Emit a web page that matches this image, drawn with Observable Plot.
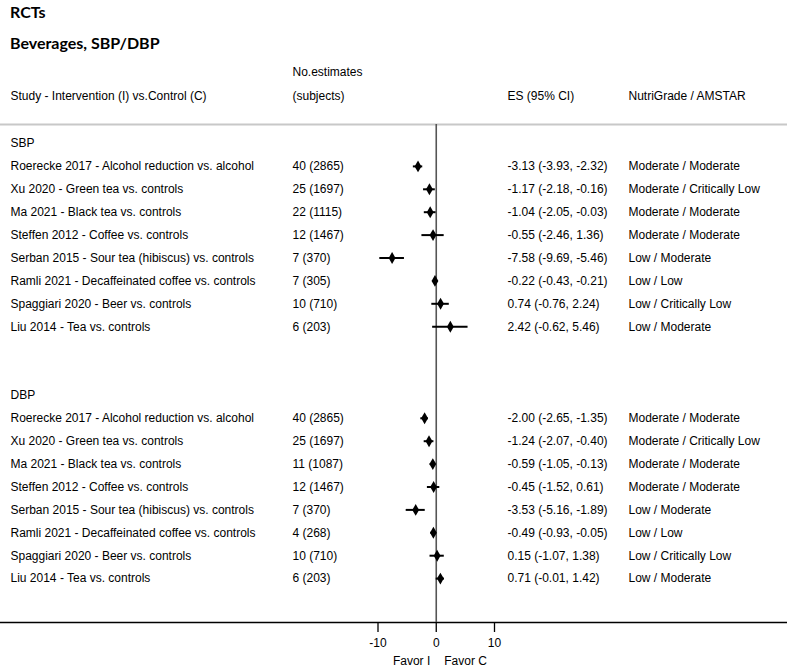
<!DOCTYPE html>
<html>
<head>
<meta charset="utf-8">
<script src="https://cdn.jsdelivr.net/npm/d3@7"></script>
<script src="https://cdn.jsdelivr.net/npm/@observablehq/plot@0.6"></script>
<style>
  body { margin: 0; background: #fff; font-family: "Liberation Sans", Arial, sans-serif; }
  #wrap { width: 787px; height: 669px; overflow: hidden; position: relative; }
  .t1 { font-family: Lato, "Open Sans", sans-serif; font-weight: bold; font-size: 16px; height: 24px; line-height: 24px; padding-left: 10px; color: #000; }
  .t2 { font-family: Lato, "Open Sans", sans-serif; font-weight: bold; font-size: 16px; height: 24px; line-height: 24px; padding-left: 10px; margin-top: 7px; color: #000; }
  svg { display: block; }
</style>
</head>
<body>
<div id="wrap">
  <div class="t1">RCTs</div>
  <div class="t2">Beverages, SBP/DBP</div>
  <div id="chart"></div>
</div>
<script>
const studies = [
  "Roerecke 2017 - Alcohol reduction vs. alcohol",
  "Xu 2020 - Green tea vs. controls",
  "Ma 2021 - Black tea vs. controls",
  "Steffen 2012 - Coffee vs. controls",
  "Serban 2015 - Sour tea (hibiscus) vs. controls",
  "Ramli 2021 - Decaffeinated coffee vs. controls",
  "Spaggiari 2020 - Beer vs. controls",
  "Liu 2014 - Tea vs. controls"
];
const outcomes = ["SBP", "DBP"];

const sbpEstimates = [40, 25, 22, 12, 7, 7, 10, 6];
const sbpSubjects  = [2865, 1697, 1115, 1467, 370, 305, 710, 203];
const sbpES  = [-3.13, -1.17, -1.04, -0.55, -7.58, -0.22, 0.74, 2.42];
const sbpLo  = [-3.93, -2.18, -2.05, -2.46, -9.69, -0.43, -0.76, -0.62];
const sbpHi  = [-2.32, -0.16, -0.03, 1.36, -5.46, -0.21, 2.24, 5.46];
const sbpGrade = ["Moderate / Moderate", "Moderate / Critically Low", "Moderate / Moderate", "Moderate / Moderate",
  "Low / Moderate", "Low / Low", "Low / Critically Low", "Low / Moderate"];

const dbpEstimates = [40, 25, 11, 12, 7, 4, 10, 6];
const dbpSubjects  = [2865, 1697, 1087, 1467, 370, 268, 710, 203];
const dbpES  = [-2.00, -1.24, -0.59, -0.45, -3.53, -0.49, 0.15, 0.71];
const dbpLo  = [-2.65, -2.07, -1.05, -1.52, -5.16, -0.93, -1.07, -0.01];
const dbpHi  = [-1.35, -0.40, -0.13, 0.61, -1.89, -0.05, 1.38, 1.42];
const dbpGrade = ["Moderate / Moderate", "Moderate / Critically Low", "Moderate / Moderate", "Moderate / Moderate",
  "Low / Moderate", "Low / Low", "Low / Critically Low", "Low / Moderate"];

const xTicks = [-10, 0, 10];
const headers = {
  study: "Study - Intervention (I) vs.Control (C)",
  n1: "No.estimates",
  n2: "(subjects)",
  es: "ES (95% CI)",
  grade: "NutriGrade / AMSTAR"
};
const favor = ["Favor I", "Favor C"];

const groups = [
  {name: outcomes[0], start: 0, est: sbpEstimates, sub: sbpSubjects, es: sbpES, lo: sbpLo, hi: sbpHi, grade: sbpGrade},
  {name: outcomes[1], start: 11, est: dbpEstimates, sub: dbpSubjects, es: dbpES, lo: dbpLo, hi: dbpHi, grade: dbpGrade}
];
const rows = [];
const labels = [];
for (const g of groups) {
  labels.push({row: g.start, text: g.name});
  studies.forEach((s, i) => {
    rows.push({
      row: g.start + 1 + i,
      study: s,
      n: `${g.est[i]} (${g.sub[i]})`,
      es: g.es[i], lo: g.lo[i], hi: g.hi[i],
      esText: `${g.es[i].toFixed(2)} (${g.lo[i].toFixed(2)}, ${g.hi[i].toFixed(2)})`,
      grade: g.grade[i]
    });
  });
}

const W = 787, H = 614;
const topM = 69, bottomY = 567;
const font = "Liberation Sans, Arial, sans-serif";
const fs = 12;
const colStudy = 10, colN = 292, colES = 507, colGrade = 628;

const plot = Plot.plot({
  width: W,
  height: H,
  marginLeft: 0,
  marginRight: 0,
  marginTop: topM,
  marginBottom: H - bottomY,
  style: {fontFamily: font, fontSize: fs + "px", color: "#000", background: "#fff"},
  x: {domain: [-10, 10], range: [377.5, 494], label: null},
  y: {domain: [0, 19], range: [88, 88 + 19 * 22.9], axis: null},
  marks: [
    Plot.frame({anchor: "top", stroke: "#c8c8c8", strokeWidth: 2}),
    Plot.frame({anchor: "bottom", stroke: "#000", strokeWidth: 1.5}),
    Plot.axisX({ticks: xTicks, tickSize: 10, tickPadding: 6, stroke: "#000", strokeWidth: 1.3, fontSize: 12, label: null, tickFormat: d => String(d)}),
    Plot.ruleX([0], {stroke: "#555", strokeWidth: 1.6}),
    Plot.text([headers.n1], {frameAnchor: "top-left", dx: colN, dy: 17 - topM, text: d => d, textAnchor: "start", lineAnchor: "middle", fontSize: fs}),
    Plot.text([headers.study], {frameAnchor: "top-left", dx: colStudy, dy: 41 - topM, text: d => d, textAnchor: "start", lineAnchor: "middle", fontSize: fs}),
    Plot.text([headers.n2], {frameAnchor: "top-left", dx: colN, dy: 41 - topM, text: d => d, textAnchor: "start", lineAnchor: "middle", fontSize: fs}),
    Plot.text([headers.es], {frameAnchor: "top-left", dx: colES, dy: 41 - topM, text: d => d, textAnchor: "start", lineAnchor: "middle", fontSize: fs}),
    Plot.text([headers.grade], {frameAnchor: "top-left", dx: colGrade, dy: 41 - topM, text: d => d, textAnchor: "start", lineAnchor: "middle", fontSize: fs}),
    Plot.text(labels, {y: "row", text: "text", frameAnchor: "left", dx: colStudy, textAnchor: "start", fontSize: fs}),
    Plot.text(rows, {y: "row", text: "study", frameAnchor: "left", dx: colStudy, textAnchor: "start", fontSize: fs}),
    Plot.text(rows, {y: "row", text: "n", frameAnchor: "left", dx: colN, textAnchor: "start", fontSize: fs}),
    Plot.text(rows, {y: "row", text: "esText", frameAnchor: "left", dx: colES, textAnchor: "start", fontSize: fs}),
    Plot.text(rows, {y: "row", text: "grade", frameAnchor: "left", dx: colGrade, textAnchor: "start", fontSize: fs}),
    Plot.ruleY(rows, {y: "row", x1: "lo", x2: "hi", stroke: "#000", strokeWidth: 2}),
    Plot.dot(rows, {y: "row", x: "es", symbol: "diamond", r: 3.6, fill: "#000", stroke: "none"}),
    Plot.text([favor[0]], {x: 0, frameAnchor: "bottom", dy: 42, dx: -6, text: d => d, textAnchor: "end", fontSize: fs}),
    Plot.text([favor[1]], {x: 0, frameAnchor: "bottom", dy: 42, dx: 8, text: d => d, textAnchor: "start", fontSize: fs})
  ]
});
document.getElementById("chart").appendChild(plot);
</script>
</body>
</html>
